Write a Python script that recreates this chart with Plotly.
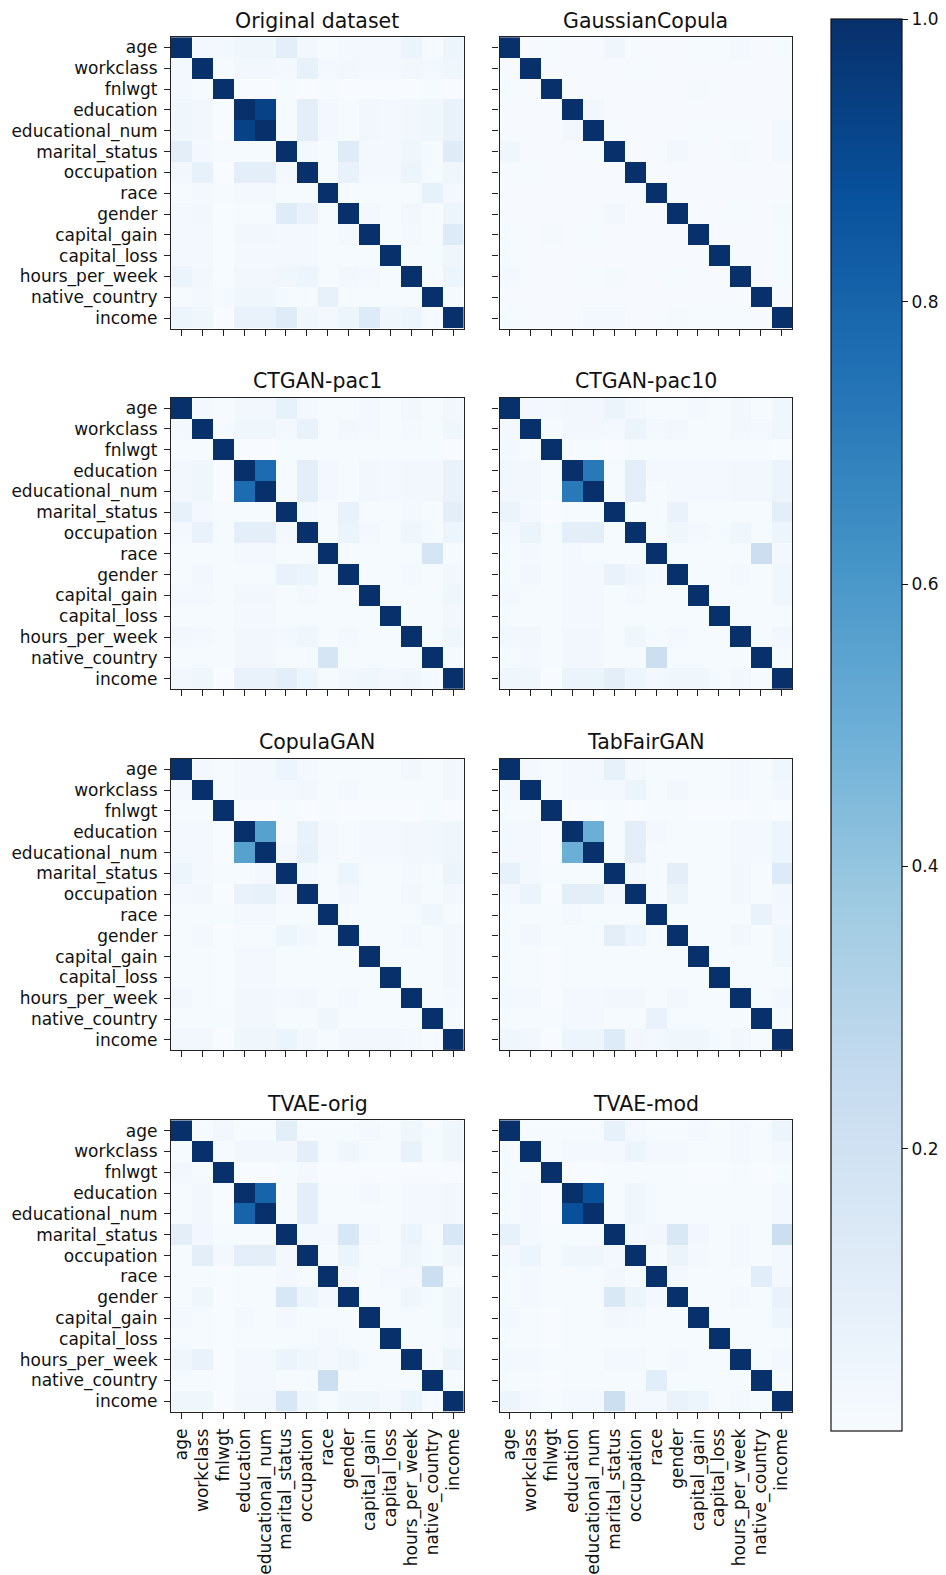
import plotly.graph_objects as go

# Feature names (row/column order of every correlation matrix)
FEATURES = ["age", "workclass", "fnlwgt", "education", "educational_num",
            "marital_status", "occupation", "race", "gender", "capital_gain",
            "capital_loss", "hours_per_week", "native_country", "income"]

PANEL_TITLES = ["Original dataset", "GaussianCopula", "CTGAN-pac1", "CTGAN-pac10",
                "CopulaGAN", "TabFairGAN", "TVAE-orig", "TVAE-mod"]

# Upper triangles (row i holds the values for columns i+1 .. 13); diagonal is 1.
ORIGINAL = [
    [0.02, 0.02, 0.04, 0.04, 0.10, 0.03, 0.01, 0.02, 0.02, 0.02, 0.06, 0.01, 0.05],
    [0.01, 0.03, 0.03, 0.02, 0.08, 0.02, 0.03, 0.02, 0.02, 0.03, 0.02, 0.04],
    [0.00, 0.00, 0.01, 0.00, 0.01, 0.00, 0.00, 0.00, 0.00, 0.01, 0.00],
    [0.93, 0.01, 0.10, 0.02, 0.01, 0.03, 0.02, 0.03, 0.04, 0.07],
    [0.01, 0.10, 0.02, 0.01, 0.03, 0.02, 0.03, 0.04, 0.07],
    [0.02, 0.01, 0.12, 0.02, 0.02, 0.04, 0.01, 0.12],
    [0.01, 0.07, 0.02, 0.02, 0.05, 0.01, 0.04],
    [0.01, 0.01, 0.01, 0.01, 0.08, 0.02],
    [0.02, 0.01, 0.03, 0.01, 0.05],
    [0.01, 0.02, 0.01, 0.13],
    [0.01, 0.01, 0.04],
    [0.01, 0.05],
    [0.01],
]

GAUSSIAN_COPULA = [
    [0.005, 0.01, 0.005, 0.005, 0.04, 0.005, 0.005, 0.005, 0.01, 0.01, 0.02, 0.005, 0.01],
    [0.005, 0.005, 0.005, 0.005, 0.01, 0.005, 0.005, 0.005, 0.005, 0.005, 0.005, 0.005],
    [0.005, 0.005, 0.005, 0.005, 0.005, 0.005, 0.015, 0.005, 0.005, 0.005, 0.005],
    [0.03, 0.005, 0.005, 0.005, 0.005, 0.005, 0.005, 0.005, 0.005, 0.005],
    [0.01, 0.005, 0.005, 0.005, 0.01, 0.005, 0.01, 0.005, 0.02],
    [0.005, 0.005, 0.03, 0.005, 0.005, 0.015, 0.005, 0.02],
    [0.005, 0.005, 0.005, 0.005, 0.005, 0.005, 0.005],
    [0.005, 0.005, 0.005, 0.005, 0.005, 0.005],
    [0.005, 0.005, 0.01, 0.005, 0.015],
    [0.005, 0.005, 0.005, 0.01],
    [0.005, 0.005, 0.01],
    [0.005, 0.01],
    [0.005],
]

CTGAN_PAC1 = [
    [0.02, 0.01, 0.03, 0.03, 0.08, 0.02, 0.01, 0.01, 0.02, 0.01, 0.03, 0.01, 0.03],
    [0.01, 0.04, 0.04, 0.02, 0.07, 0.01, 0.03, 0.02, 0.01, 0.02, 0.01, 0.04],
    [0.00, 0.00, 0.01, 0.01, 0.01, 0.01, 0.01, 0.01, 0.01, 0.01, 0.00],
    [0.77, 0.01, 0.10, 0.02, 0.01, 0.03, 0.02, 0.03, 0.03, 0.07],
    [0.01, 0.10, 0.02, 0.01, 0.03, 0.02, 0.03, 0.03, 0.07],
    [0.02, 0.01, 0.07, 0.01, 0.01, 0.02, 0.01, 0.10],
    [0.01, 0.06, 0.02, 0.01, 0.04, 0.01, 0.05],
    [0.01, 0.01, 0.01, 0.01, 0.17, 0.01],
    [0.01, 0.01, 0.02, 0.01, 0.03],
    [0.01, 0.01, 0.01, 0.04],
    [0.01, 0.01, 0.03],
    [0.01, 0.04],
    [0.01],
]

CTGAN_PAC10 = [
    [0.02, 0.02, 0.03, 0.03, 0.06, 0.02, 0.01, 0.01, 0.02, 0.01, 0.03, 0.01, 0.04],
    [0.01, 0.03, 0.03, 0.02, 0.06, 0.02, 0.03, 0.01, 0.01, 0.03, 0.02, 0.04],
    [0.01, 0.01, 0.00, 0.01, 0.01, 0.01, 0.01, 0.01, 0.01, 0.01, 0.00],
    [0.72, 0.01, 0.10, 0.02, 0.02, 0.02, 0.02, 0.03, 0.03, 0.06],
    [0.01, 0.10, 0.01, 0.02, 0.02, 0.02, 0.03, 0.03, 0.06],
    [0.01, 0.01, 0.07, 0.01, 0.01, 0.01, 0.01, 0.10],
    [0.01, 0.04, 0.02, 0.01, 0.04, 0.01, 0.05],
    [0.01, 0.01, 0.01, 0.01, 0.22, 0.02],
    [0.01, 0.01, 0.02, 0.01, 0.04],
    [0.01, 0.01, 0.01, 0.04],
    [0.01, 0.01, 0.01],
    [0.01, 0.03],
    [0.01],
]

COPULA_GAN = [
    [0.02, 0.01, 0.02, 0.02, 0.05, 0.02, 0.01, 0.01, 0.01, 0.01, 0.03, 0.01, 0.03],
    [0.01, 0.02, 0.02, 0.02, 0.03, 0.01, 0.02, 0.01, 0.01, 0.01, 0.01, 0.03],
    [0.00, 0.00, 0.01, 0.00, 0.01, 0.00, 0.00, 0.00, 0.00, 0.01, 0.00],
    [0.56, 0.01, 0.07, 0.02, 0.01, 0.02, 0.02, 0.03, 0.03, 0.04],
    [0.02, 0.08, 0.02, 0.01, 0.02, 0.02, 0.03, 0.03, 0.04],
    [0.02, 0.01, 0.05, 0.01, 0.01, 0.02, 0.01, 0.06],
    [0.01, 0.03, 0.01, 0.01, 0.03, 0.01, 0.03],
    [0.01, 0.01, 0.01, 0.01, 0.04, 0.01],
    [0.01, 0.01, 0.02, 0.01, 0.03],
    [0.01, 0.01, 0.01, 0.03],
    [0.01, 0.01, 0.03],
    [0.01, 0.02],
    [0.01],
]

TAB_FAIR_GAN = [
    [0.02, 0.01, 0.02, 0.02, 0.08, 0.02, 0.01, 0.01, 0.01, 0.01, 0.02, 0.01, 0.04],
    [0.01, 0.02, 0.02, 0.02, 0.06, 0.01, 0.03, 0.01, 0.01, 0.02, 0.01, 0.03],
    [0.00, 0.00, 0.01, 0.00, 0.01, 0.01, 0.00, 0.00, 0.00, 0.01, 0.00],
    [0.50, 0.01, 0.10, 0.02, 0.01, 0.01, 0.01, 0.02, 0.02, 0.05],
    [0.01, 0.10, 0.01, 0.01, 0.01, 0.01, 0.02, 0.02, 0.05],
    [0.02, 0.01, 0.10, 0.01, 0.01, 0.03, 0.01, 0.13],
    [0.01, 0.06, 0.01, 0.01, 0.03, 0.01, 0.03],
    [0.01, 0.01, 0.01, 0.01, 0.07, 0.02],
    [0.01, 0.01, 0.03, 0.01, 0.04],
    [0.01, 0.01, 0.01, 0.04],
    [0.01, 0.01, 0.01],
    [0.01, 0.03],
    [0.01],
]

TVAE_ORIG = [
    [0.01, 0.03, 0.01, 0.01, 0.10, 0.01, 0.01, 0.01, 0.02, 0.01, 0.04, 0.01, 0.04],
    [0.01, 0.03, 0.03, 0.03, 0.10, 0.01, 0.04, 0.01, 0.01, 0.07, 0.01, 0.04],
    [0.00, 0.00, 0.01, 0.02, 0.00, 0.00, 0.00, 0.00, 0.00, 0.00, 0.00],
    [0.80, 0.01, 0.10, 0.01, 0.01, 0.02, 0.01, 0.02, 0.02, 0.03],
    [0.01, 0.10, 0.01, 0.01, 0.01, 0.01, 0.02, 0.02, 0.03],
    [0.02, 0.02, 0.16, 0.02, 0.01, 0.06, 0.01, 0.16],
    [0.01, 0.06, 0.01, 0.01, 0.04, 0.01, 0.04],
    [0.02, 0.01, 0.02, 0.02, 0.22, 0.01],
    [0.01, 0.01, 0.04, 0.01, 0.04],
    [0.01, 0.01, 0.01, 0.04],
    [0.01, 0.01, 0.02],
    [0.01, 0.06],
    [0.01],
]

TVAE_MOD = [
    [0.01, 0.01, 0.01, 0.01, 0.08, 0.02, 0.01, 0.01, 0.02, 0.01, 0.02, 0.01, 0.05],
    [0.01, 0.02, 0.02, 0.02, 0.05, 0.02, 0.02, 0.01, 0.01, 0.02, 0.01, 0.02],
    [0.00, 0.00, 0.01, 0.01, 0.01, 0.01, 0.00, 0.00, 0.01, 0.00, 0.01],
    [0.88, 0.01, 0.04, 0.01, 0.01, 0.01, 0.01, 0.01, 0.01, 0.02],
    [0.01, 0.04, 0.01, 0.01, 0.01, 0.01, 0.01, 0.01, 0.02],
    [0.02, 0.03, 0.15, 0.03, 0.01, 0.02, 0.01, 0.22],
    [0.01, 0.06, 0.02, 0.01, 0.02, 0.01, 0.02],
    [0.02, 0.01, 0.01, 0.01, 0.11, 0.02],
    [0.01, 0.01, 0.02, 0.01, 0.07],
    [0.01, 0.01, 0.01, 0.05],
    [0.01, 0.01, 0.01],
    [0.01, 0.02],
    [0.01],
]

MATRICES = [ORIGINAL, GAUSSIAN_COPULA, CTGAN_PAC1, CTGAN_PAC10,
            COPULA_GAN, TAB_FAIR_GAN, TVAE_ORIG, TVAE_MOD]

# matplotlib "Blues" colour map
BLUES = [[0.0, "#f7fbff"], [0.125, "#deebf7"], [0.25, "#c6dbef"], [0.375, "#9ecae1"],
         [0.5, "#6baed6"], [0.625, "#4292c6"], [0.75, "#2171b5"], [0.875, "#08519c"],
         [1.0, "#08306b"]]

FONT = "DejaVu Sans"
W, H = 946, 1575
n = len(FEATURES)


def full_matrix(upper):
    m = [[1.0] * n for _ in range(n)]
    for i, row in enumerate(upper):
        for k, v in enumerate(row):
            j = i + 1 + k
            m[i][j] = v
            m[j][i] = v
    return m


# panel placement in layout pixels
COL_X = [(171.0, 463.5), (499.5, 792.0)]
ROW_TOP = [37.3, 399.5, 762.3, 1125.3]
SIDE = 292.7
TITLE_GAP = 16.5

# colour bar placement in layout pixels
CB_TOP = 19.3
CB_LEN = 1418.0

fig = go.Figure()
layout = {}
annotations = []
for k, (title, upper) in enumerate(zip(PANEL_TITLES, MATRICES)):
    r, c = divmod(k, 2)
    idx = "" if k == 0 else str(k + 1)
    x0, x1 = COL_X[c]
    top = ROW_TOP[r]
    bot = top + SIDE
    fig.add_trace(go.Heatmap(
        z=full_matrix(upper), x=list(range(n)), y=list(range(n)),
        colorscale=BLUES, zmin=0, zmax=1,
        showscale=(k == 0),
        xaxis="x" + idx, yaxis="y" + idx,
        colorbar=dict(
            x=831 / W, xanchor="left", xref="paper",
            y=1 - CB_TOP / H, yanchor="top", yref="paper",
            len=CB_LEN / H, lenmode="fraction",
            thickness=71, thicknessmode="pixels",
            xpad=0, ypad=0, outlinewidth=1.2, outlinecolor="#111",
            tickvals=[0.2, 0.4, 0.6, 0.8, 1.0],
            ticktext=["0.2", "0.4", "0.6", "0.8", "1.0"],
            ticks="outside", ticklen=6, tickwidth=1.2, tickcolor="#111",
            tickfont=dict(size=17, family=FONT, color="#111"),
        ) if k == 0 else None,
    ))
    common = dict(
        tickvals=list(range(n)), ticktext=FEATURES,
        ticks="outside", ticklen=6, tickwidth=1.2, tickcolor="#222",
        showline=True, mirror=True, linecolor="#222", linewidth=1.2,
        showgrid=False, zeroline=False,
        tickfont=dict(size=17, family=FONT, color="#111"),
        ticklabelstandoff=3,
    )
    layout["xaxis" + idx] = dict(
        common, domain=[x0 / W, x1 / W], anchor="y" + idx,
        range=[-0.5, n - 0.5], tickangle=-90,
        showticklabels=(r == 3),
    )
    layout["yaxis" + idx] = dict(
        common, domain=[1 - bot / H, 1 - top / H], anchor="x" + idx,
        range=[n - 0.5, -0.5],
        showticklabels=(c == 0),
    )
    annotations.append(dict(
        text=title, xref="paper", yref="paper",
        x=(x0 + x1) / 2 / W, y=1 - (top - TITLE_GAP) / H,
        xanchor="center", yanchor="middle", showarrow=False,
        font=dict(size=20.5, family=FONT, color="#111"),
    ))

fig.update_layout(
    width=W, height=H,
    margin=dict(l=0, r=0, t=0, b=0),
    paper_bgcolor="white", plot_bgcolor="white",
    font=dict(family=FONT, color="#111"),
    annotations=annotations,
    **layout,
)

fig.write_html("out.html")
